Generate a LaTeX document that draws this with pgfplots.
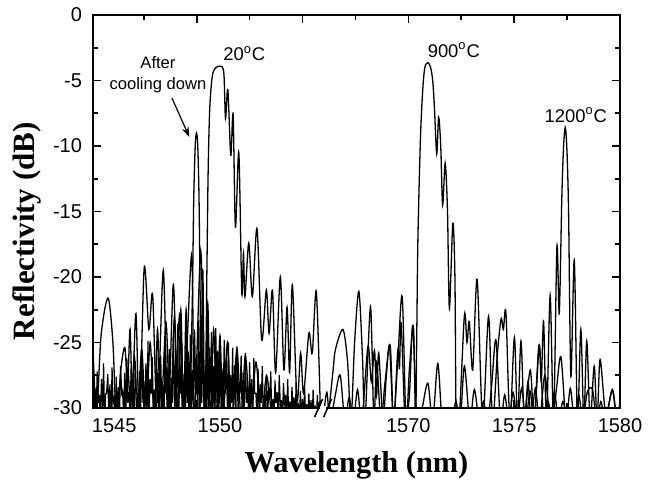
\documentclass[border=0pt]{standalone}
\usepackage{fontspec}
\setmainfont{Liberation Sans}
\newfontfamily\seriffont{Liberation Serif}
\usepackage{pgfplots}
\pgfplotsset{compat=1.18}
\usetikzlibrary{arrows.meta}
\begin{document}
\begin{tikzpicture}
\path[use as bounding box] (-46.5pt,-38pt) rectangle (281pt,204pt);
\begin{axis}[
  at={(0,0)}, anchor=south west,
  scale only axis, width=263.5pt, height=196.5pt,
  xmin=1544, xmax=1568.9, ymin=-30, ymax=0,
  clip mode=individual,
  axis line style={line width=1pt},
  tick style={line width=0.8pt, black},
  tick align=inside,
  major tick length=4pt, minor tick length=2.5pt,
  xtick={1548.9,1553.9,1558.9,1563.9,1568.9},
  xticklabels={},
  minor xtick={1546.4,1551.4,1556.4,1561.4,1566.4},
  extra x ticks={1545,1550,1558.9,1563.9,1568.9},
  extra x tick labels={1545,1550,1570,1575,1580},
  extra x tick style={major tick length=0pt},
  ytick={-30,-25,-20,-15,-10,-5,0},
  yticklabels={-30,-25,-20,-15,-10,-5,0},
  minor ytick={-27.5,-22.5,-17.5,-12.5,-7.5,-2.5},
  ticklabel style={font=\fontsize{10}{11}\selectfont},
  xticklabel style={yshift=-1.7pt},
  yticklabel style={xshift=-2pt},
  xlabel={\seriffont\bfseries\fontsize{15.2}{17}\selectfont Wavelength (nm)},
  ylabel={\seriffont\bfseries\fontsize{15.5}{17}\selectfont Reflectivity (dB)},
  xlabel style={at={(axis description cs:0.5,-0.163)}, anchor=base},
  ylabel style={at={(axis description cs:-0.125,0.45)}, anchor=center},
]
% ---- noise floor (left segment)
\addplot[black, line width=0.6pt] coordinates {
(1544.00,-26.0)(1544.05,-31)(1544.10,-28.5)(1544.14,-31)(1544.20,-27.2)(1544.26,-29.6)(1544.30,-29.0)(1544.35,-31)(1544.40,-27.8)(1544.46,-30.2)
(1544.50,-26.6)(1544.55,-31)(1544.60,-28.9)(1544.64,-28.9)(1544.70,-27.4)(1544.75,-31)(1544.80,-28.2)(1544.86,-31)(1544.90,-26.9)(1544.95,-29.6)
(1545.00,-29.2)(1545.05,-31)(1545.10,-27.6)(1545.14,-30.2)(1545.20,-28.4)(1545.25,-31)(1545.30,-26.8)(1545.36,-28.9)(1545.40,-28.7)(1545.45,-31)
(1545.50,-27.3)(1545.55,-31)(1545.60,-26.2)(1545.64,-29.6)(1545.70,-28.8)(1545.75,-31)(1545.80,-27.0)(1545.86,-30.2)(1545.90,-28.1)(1545.95,-31)
(1546.00,-26.4)(1546.05,-28.9)(1546.10,-28.9)(1546.14,-31)(1546.20,-27.2)(1546.25,-31)(1546.30,-25.6)(1546.36,-29.6)(1546.40,-28.0)(1546.45,-31)
(1546.50,-26.6)(1546.55,-30.2)(1546.60,-24.9)(1546.64,-31)(1546.70,-27.8)(1546.75,-28.9)(1546.80,-26.1)(1546.86,-31)(1546.90,-28.6)(1546.95,-31)
(1547.00,-25.4)(1547.05,-29.6)(1547.10,-27.3)(1547.14,-31)(1547.20,-26.0)(1547.25,-30.2)(1547.30,-28.2)(1547.36,-31)(1547.40,-24.8)(1547.45,-28.9)
(1547.50,-26.9)(1547.55,-31)(1547.60,-25.5)(1547.64,-31)(1547.70,-27.7)(1547.75,-29.6)(1547.80,-24.2)(1547.86,-31)(1547.90,-26.3)(1547.95,-30.2)
(1548.00,-23.6)(1548.05,-31)(1548.10,-26.8)(1548.14,-28.9)(1548.20,-25.0)(1548.25,-31)(1548.30,-27.4)(1548.36,-31)(1548.40,-23.4)(1548.45,-29.6)
(1548.50,-25.7)(1548.55,-31)(1548.60,-24.4)(1548.64,-30.2)(1548.70,-27.1)(1548.75,-31)(1548.80,-24.0)(1548.86,-28.9)(1548.90,-25.9)(1548.95,-31)
(1549.00,-23.3)(1549.05,-31)(1549.10,-26.5)(1549.14,-29.6)(1549.20,-24.6)(1549.25,-31)(1549.30,-27.2)(1549.36,-30.2)(1549.40,-23.8)(1549.45,-31)
(1549.50,-25.4)(1549.55,-28.9)(1549.60,-24.2)(1549.64,-31)(1549.70,-26.8)(1549.75,-31)(1549.80,-23.9)(1549.86,-29.6)(1549.90,-25.6)(1549.95,-31)
(1550.00,-24.5)(1550.05,-30.2)(1550.10,-27.0)(1550.14,-31)(1550.20,-24.8)(1550.25,-28.9)(1550.30,-26.2)(1550.36,-31)(1550.40,-25.0)(1550.45,-31)
(1550.50,-27.5)(1550.55,-29.6)(1550.60,-25.4)(1550.64,-31)(1550.70,-26.7)(1550.75,-30.2)(1550.80,-25.3)(1550.86,-31)(1550.90,-28.0)(1550.95,-28.9)
(1551.00,-26.0)(1551.05,-31)(1551.10,-27.3)(1551.14,-31)(1551.20,-25.8)(1551.25,-29.6)(1551.30,-28.4)(1551.36,-31)(1551.40,-26.5)(1551.45,-30.2)
(1551.50,-27.8)(1551.55,-31)(1551.60,-26.2)(1551.64,-28.9)(1551.70,-28.9)(1551.75,-31)(1551.80,-27.0)(1551.86,-31)(1551.90,-28.2)(1551.95,-29.6)
(1552.00,-26.8)(1552.05,-31)(1552.10,-29.0)(1552.14,-30.2)(1552.20,-27.6)(1552.25,-31)(1552.30,-28.5)(1552.36,-28.9)(1552.40,-27.2)(1552.45,-31)
(1552.50,-29.3)(1552.55,-31)(1552.60,-27.9)(1552.64,-29.6)(1552.70,-28.8)(1552.75,-31)(1552.80,-27.5)(1552.86,-30.2)(1552.90,-29.4)(1552.95,-31)
(1553.00,-28.1)(1553.05,-29.9)(1553.10,-29.0)(1553.14,-31)(1553.20,-27.8)(1553.25,-31)(1553.30,-29.5)(1553.36,-31)(1553.40,-28.4)(1553.45,-30.2)
(1553.50,-29.2)(1553.55,-31)(1553.60,-28.0)(1553.64,-31)(1553.70,-29.6)(1553.75,-31)(1553.80,-28.7)(1553.86,-31)(1553.90,-29.3)(1553.95,-31)
(1554.00,-28.5)(1554.05,-31)(1554.10,-29.7)(1554.14,-31)(1554.20,-28.9)(1554.25,-31)(1554.30,-29.4)(1554.36,-31)(1554.40,-28.6)(1554.45,-31)
(1554.50,-29.8)(1554.55,-31)(1554.60,-29.0)(1554.65,-31)(1554.70,-29.5)(1554.75,-31)
};
% ---- after cooling down
\addplot[black, line width=0.65pt, smooth] coordinates {
(1545.50,-31)(1545.65,-27)(1545.80,-31)(1545.95,-26)(1546.10,-31)(1546.30,-25.5)(1546.50,-31)(1546.70,-25)(1546.90,-31)
(1547.05,-24)(1547.20,-31)(1547.45,-23.5)(1547.65,-31)(1547.85,-23)(1548.00,-31)(1548.15,-22.5)(1548.28,-31)(1548.40,-22.5)
(1548.55,-31)(1548.69,-22)(1548.76,-14)(1548.83,-10)(1548.89,-9.0)(1548.95,-10)(1549.01,-14)(1549.06,-21)(1549.11,-27)
(1549.19,-19.5)(1549.28,-31)(1549.42,-22)(1549.55,-31)(1549.70,-24)(1549.85,-31)(1550.00,-24.5)(1550.15,-31)(1550.35,-25)
(1550.55,-31)(1550.80,-25.5)(1551.00,-31)(1551.20,-26)(1551.45,-31)(1551.70,-26.5)(1551.95,-31)(1552.20,-27.5)(1552.45,-31)
};
% ---- 20 C
\addplot[black, line width=0.65pt, smooth] coordinates {
(1544.00,-25.5)(1544.17,-30.5)(1544.38,-24.5)(1544.71,-21.6)(1544.94,-25.0)(1545.11,-31)(1545.32,-27)(1545.51,-25.4)
(1545.63,-28.5)(1545.75,-24.0)(1545.86,-29)(1546.03,-22.8)(1546.19,-31)(1546.42,-19.3)(1546.64,-24.0)(1546.82,-21.4)
(1547.04,-31)(1547.32,-19.5)(1547.54,-31)(1547.79,-20.6)(1547.94,-27)(1548.10,-22.9)(1548.27,-31)(1548.66,-18.3)
(1548.79,-31)(1549.09,-18.0)(1549.28,-31)(1549.38,-19.7)(1549.44,-12)(1549.52,-7)(1549.67,-4.4)(1549.99,-3.9)
(1550.18,-4.4)(1550.26,-7.9)(1550.37,-5.7)(1550.51,-10.7)(1550.62,-7.6)(1550.73,-16.2)(1550.89,-10.5)(1551.03,-21.2)
(1551.11,-18.2)(1551.18,-21.5)(1551.36,-17.4)(1551.53,-21.5)(1551.75,-16.3)(1551.97,-24.8)(1552.19,-21.0)(1552.32,-24.3)
(1552.48,-21.0)(1552.63,-27.3)(1552.85,-20.0)(1553.02,-27.1)(1553.17,-22.3)(1553.29,-27.3)(1553.42,-20.6)(1553.64,-29.4)
(1553.81,-25.8)(1553.95,-28.9)(1554.20,-24.3)(1554.36,-25.8)(1554.55,-21.1)(1554.74,-30)
};
% ---- right segment (real wavelength, shifted by 11.1 nm for the axis break)
\addplot[black, line width=0.65pt, smooth] table[x expr=\thisrowno{0}-11.1, y index=1] {
1566.00 -30.5
1566.15 -28.8
1566.30 -31
1566.55 -29.0
1566.78 -27.5
1567.00 -31
1567.20 -29.2
1567.40 -31
1567.60 -28.6
1567.80 -31
1568.09 -25.3
1568.25 -28.0
1568.40 -25.6
1568.50 -29
1568.60 -25.8
1568.80 -31
1568.95 -27.8
1569.11 -25.3
1569.30 -31
1569.50 -25.6
1569.58 -27
1569.66 -23.5
1569.85 -31
1570.05 -29
1570.21 -23.7
1570.40 -31
1570.65 -30
1570.92 -28.1
1571.15 -31
1571.39 -26.6
1571.60 -31
1571.85 -30
1572.05 -31
1572.25 -29.5
1572.45 -31
1572.65 -26.8
1572.90 -31
1573.12 -28.6
1573.35 -31
1573.55 -29.5
1573.75 -31
1573.95 -28
1574.14 -24.8
1574.35 -31
1574.55 -29
1574.75 -31
1574.95 -28.8
1575.15 -31
1575.35 -28.5
1575.55 -31
1575.75 -28.7
1575.95 -31
1576.18 -25.2
1576.40 -31
1576.60 -29.5
1576.80 -31
1577.00 -28.5
1577.21 -26.1
1577.45 -31
1577.65 -28.5
1577.85 -31
1578.05 -29
1578.25 -31
1578.45 -28.8
1578.70 -28.6
1578.90 -31
1579.10 -29.5
1579.30 -31
1579.64 -28.6
1579.85 -31
1580.00 -30
};
% 900 C
\addplot[black, line width=0.65pt, smooth] table[x expr=\thisrowno{0}-11.1, y index=1] {
1566.20 -31
1566.45 -27.0
1566.56 -25.5
1566.91 -24.0
1567.13 -26.5
1567.29 -31
1567.46 -25
1567.66 -21.1
1567.83 -26
1567.95 -31
1568.21 -22.3
1568.37 -31
1568.50 -26.5
1568.70 -31
1568.90 -28
1569.14 -25.2
1569.30 -31
1569.51 -26
1569.71 -21.5
1569.89 -31
1570.05 -27
1570.24 -23.8
1570.34 -31
1570.40 -24
1570.45 -17.2
1570.57 -9.5
1570.68 -5.7
1570.78 -4.0
1570.92 -3.64
1571.05 -4.0
1571.15 -5.0
1571.23 -7.0
1571.34 -10.6
1571.43 -7.8
1571.53 -10
1571.62 -14.5
1571.74 -11.3
1571.85 -15
1571.94 -22.4
1572.10 -15.9
1572.20 -20
1572.26 -31
1572.40 -31
1572.65 -22.9
1572.77 -25
1572.88 -23.4
1573.04 -27.1
1573.25 -20.2
1573.51 -31
1573.79 -23.0
1573.98 -31
1574.20 -26
1574.38 -23.2
1574.49 -24.0
1574.61 -22.7
1574.80 -31
1575.01 -24.6
1575.16 -31
1575.32 -24.9
1575.48 -31
1575.65 -28
1575.80 -31
1576.00 -28.5
1576.20 -31
1576.45 -27.5
1576.70 -31
1576.90 -28.8
1577.10 -31
1577.30 -29.5
1577.50 -31
};
% 1200 C
\addplot[black, line width=0.65pt, smooth] table[x expr=\thisrowno{0}-11.1, y index=1] {
1575.50 -31
1575.76 -27.1
1575.95 -31
1576.18 -25.2
1576.28 -28
1576.39 -23.4
1576.53 -31
1576.70 -21.4
1576.86 -31
1577.02 -17.7
1577.13 -22.8
1577.25 -14
1577.33 -10.2
1577.41 -8.6
1577.49 -10.2
1577.57 -15
1577.68 -27.6
1577.84 -18.7
1577.99 -31
1578.15 -24.0
1578.29 -31
1578.43 -24.9
1578.59 -31
1578.78 -26.8
1578.92 -31
1579.06 -26.3
1579.33 -30.5
1579.64 -28.6
1579.85 -31
1580.00 -29.5
};
% axis break marks
\draw[white, line width=2pt] (axis cs:1554.72,-30) -- (axis cs:1555.02,-30);
\draw[black, line width=0.75pt] (axis cs:1554.47,-30.69) -- (axis cs:1554.85,-29.31);
\draw[black, line width=0.75pt] (axis cs:1554.90,-30.69) -- (axis cs:1555.27,-29.31);
% annotations
\node[font=\fontsize{9.2}{10}\selectfont] at (axis cs:1551.15,-2.94) {20\textsuperscript{o}C};
\node[font=\fontsize{9.2}{10}\selectfont] at (axis cs:1561.05,-2.67) {900\textsuperscript{o}C};
\node[font=\fontsize{9.2}{10}\selectfont] at (axis cs:1566.81,-7.63) {1200\textsuperscript{o}C};
\node[font=\fontsize{8.3}{10.5}\selectfont, align=center] at (axis cs:1547.07,-4.54) {After\\cooling down};
\draw[-{Stealth[length=5pt,width=3.5pt]}, line width=0.6pt] (axis cs:1547.73,-6.34) -- (axis cs:1548.55,-9.31);
\end{axis}
\end{tikzpicture}
\end{document}
